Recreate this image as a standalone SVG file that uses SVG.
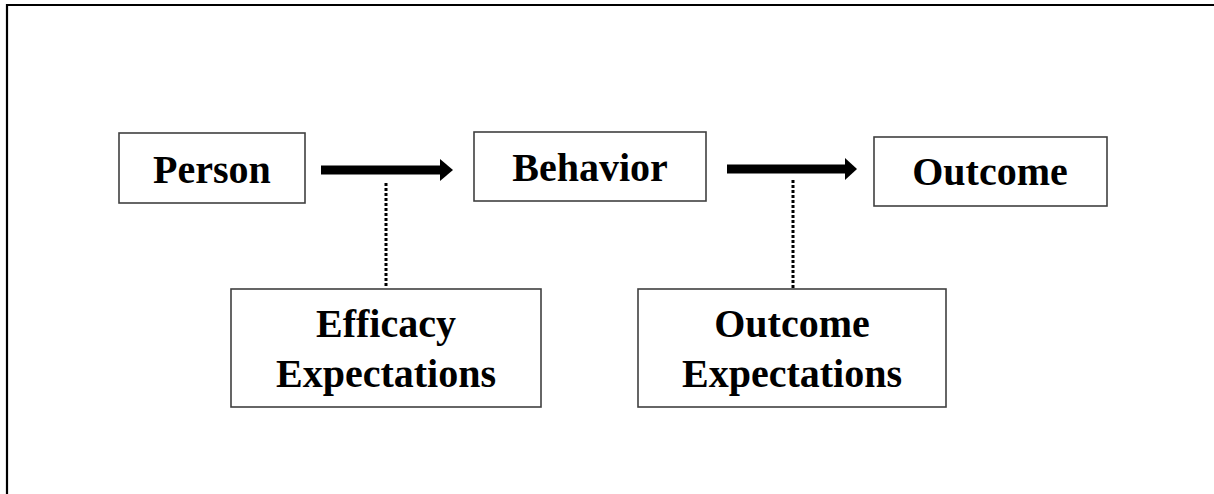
<svg xmlns="http://www.w3.org/2000/svg" width="1214" height="494" viewBox="0 0 1214 494">
<style>
.box{fill:#fff;stroke:#404040;stroke-width:1.6}
.lbl{font-family:"Liberation Serif","Times New Roman",serif;font-weight:bold;font-size:40px;fill:#000;text-anchor:middle}
.shaft{stroke:#000;stroke-width:9;fill:none}
.head{fill:#000}
.dot{stroke:#000;stroke-width:3;stroke-dasharray:3 2;fill:none}
</style>
<rect x="0" y="0" width="1214" height="494" fill="#fff"/>
<path d="M7,494 V5 H1214" fill="none" stroke="#000" stroke-width="2.2"/>
<g id="person"><rect class="box" x="119" y="133" width="186" height="70"/><text class="lbl" x="212" y="183">Person</text></g>
<g id="behavior"><rect class="box" x="474" y="132" width="232" height="69"/><text class="lbl" x="590" y="181">Behavior</text></g>
<g id="outcome"><rect class="box" x="874" y="137" width="233" height="69"/><text class="lbl" x="990" y="185">Outcome</text></g>
<g id="efficacy"><rect class="box" x="231" y="289" width="310" height="118"/><text class="lbl" x="386" y="337">Efficacy</text><text class="lbl" x="386" y="387">Expectations</text></g>
<g id="outcome-exp"><rect class="box" x="638" y="289" width="308" height="118"/><text class="lbl" x="792" y="337">Outcome</text><text class="lbl" x="792" y="387">Expectations</text></g>
<g id="connectors">
<line class="shaft" x1="321" y1="170" x2="441" y2="170"/>
<polygon class="head" points="440,159 453,170 440,181"/>
<line class="shaft" x1="727" y1="169" x2="846" y2="169"/>
<polygon class="head" points="845,158 857,169 845,180"/>
<line class="dot" x1="386" y1="183" x2="386" y2="288"/>
<line class="dot" x1="793" y1="180" x2="793" y2="288"/>
</g>
</svg>
